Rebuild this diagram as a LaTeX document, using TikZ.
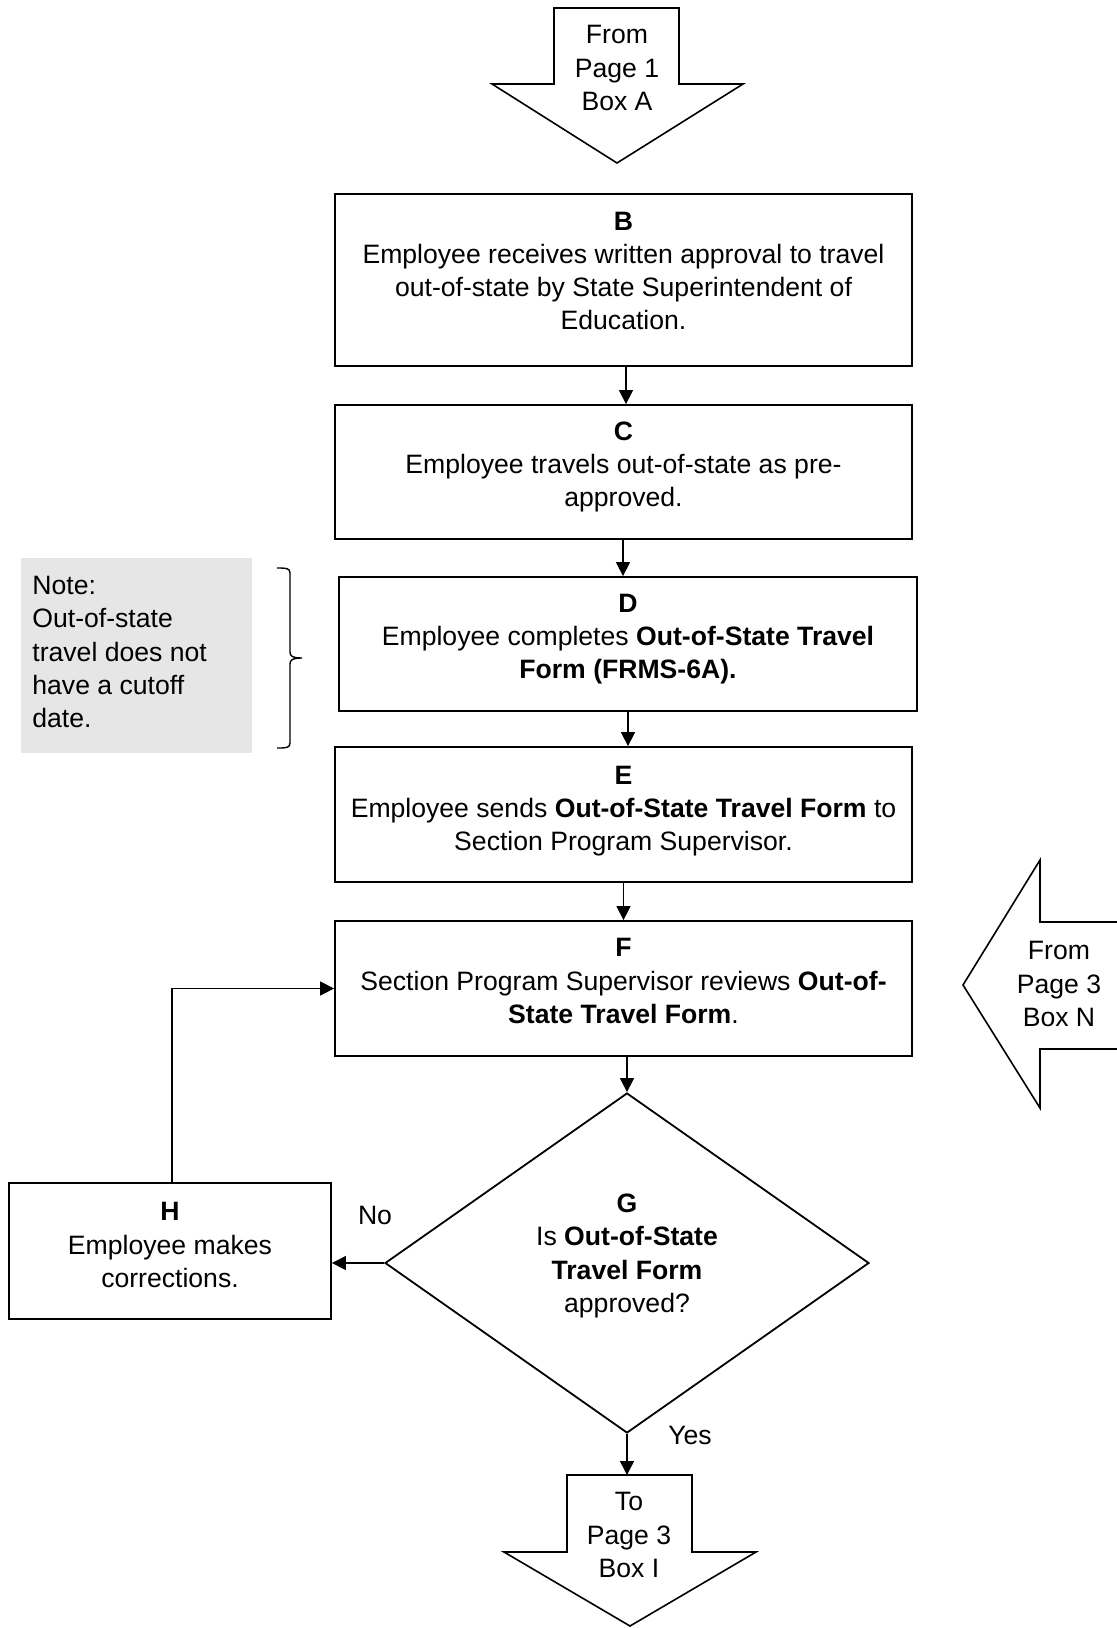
\documentclass[tikz,border=0pt]{standalone}
\usepackage{fontspec}
\setmainfont{Liberation Sans}
\usetikzlibrary{arrows.meta,shapes.geometric}
\definecolor{notegray}{RGB}{230,230,230}
\begin{document}
\begin{tikzpicture}[x=0.5pt,y=-0.5pt,
  box/.style={draw,line width=0.9pt,inner sep=0pt,minimum width=288.5pt},
  txt/.style={inner sep=0pt,align=center,font=\fontsize{13.3}{16.6}\selectfont},
  arr/.style={draw,line width=0.7pt,-{Triangle[length=7pt,width=7pt]}},
  shapeline/.style={draw,line width=0.8pt,line join=miter}]
\useasboundingbox (0,0) rectangle (1116,1628);
% top off-page arrow
\draw[shapeline] (554,8) -- (679,8) -- (679,84) -- (743,84) -- (617,163) -- (492,84) -- (554,84) -- cycle;
\node[txt] (Atxt) at (617,68) {From\\Page 1\\Box A};
% boxes
\node[box,minimum height=86pt] (B) at (623.5,280) {};
\node[txt] (Btxt) at (623.5,271) {\textbf{B}\\Employee receives written approval to travel\\out-of-state by State Superintendent of\\Education.};
\node[box,minimum height=67pt] (C) at (623.5,472) {};
\node[txt] (Ctxt) at (623.5,467) {\textbf{C}\\Employee travels out-of-state as pre-\\approved.};
\node[box,minimum height=67pt,minimum width=289pt] (D) at (628,644) {};
\node[txt] (Dtxt) at (628,639) {\textbf{D}\\Employee completes \textbf{Out-of-State Travel}\\\textbf{Form (FRMS-6A).}};
\node[box,minimum height=67.5pt] (E) at (623.5,814.5) {};
\node[txt] (Etxt) at (623.5,811) {\textbf{E}\\Employee sends \textbf{Out-of-State Travel Form} to\\Section Program Supervisor.};
\node[box,minimum height=67.5pt] (F) at (623.5,988.5) {};
\node[txt] (Ftxt) at (623.5,981) {\textbf{F}\\Section Program Supervisor reviews \textbf{Out-of-}\\\textbf{State Travel Form}.};
\node[draw,diamond,line width=0.9pt,inner sep=0pt,minimum width=242pt,minimum height=170pt] (G) at (627,1263) {};
\node[txt] (Gtxt) at (627,1256) {\textbf{G}\\Is \textbf{Out-of-State}\\\textbf{Travel Form}\\approved?};
\node[box,minimum width=161pt,minimum height=68pt] (H) at (170,1251) {};
\node[txt] (Htxt) at (170,1245) {\textbf{H}\\Employee makes\\corrections.};
% note and brace
\fill[notegray] (21,558) rectangle (252,753);
\node[txt,align=left,anchor=west] (Note) at (32,652) {Note:\\Out-of-state\\travel does not\\have a cutoff\\date.};
\draw[line width=0.7pt] (277,568) .. controls (286,568) and (290,568) .. (290,573) -- (290,652) .. controls (290,656) and (292,658) .. (302,658)
  .. controls (292,658) and (290,660) .. (290,664) -- (290,743) .. controls (290,748) and (286,748) .. (277,748);
% right off-page arrow
\draw[shapeline] (963,985) -- (1040,860) -- (1040,922) -- (1140,922) -- (1140,1049) -- (1040,1049) -- (1040,1108) -- cycle;
\node[txt] (Ntxt) at (1059,984) {From\\Page 3\\Box N};
% bottom off-page arrow
\draw[shapeline] (567,1475) -- (692,1475) -- (692,1552) -- (756,1552) -- (630,1626) -- (504,1552) -- (567,1552) -- cycle;
\coordinate (Itop) at (627,1475);
\node[txt] (Itxt) at (629,1535) {To\\Page 3\\Box I};
% connectors
\draw[arr] ([xshift=1.25pt]B.south) -- ([xshift=1.25pt]C.north);
\draw[arr] ([xshift=-0.25pt]C.south) -- ([xshift=-2.5pt]D.north);
\draw[arr] (D.south) -- ([xshift=2.25pt]E.north);
\draw[arr] (E.south) -- (F.north);
\draw[arr] ([xshift=1.75pt]F.south) -- (G.north);
\draw[arr] (G.west) -- (G.west -| H.east);
\draw[arr] ([xshift=1pt]H.north) |- (F.west);
\draw[arr] (G.south) -- (Itop);
\node[txt] (No) at (375,1215) {No};
\node[txt] (Yes) at (690,1435) {Yes};
\end{tikzpicture}
\end{document}
